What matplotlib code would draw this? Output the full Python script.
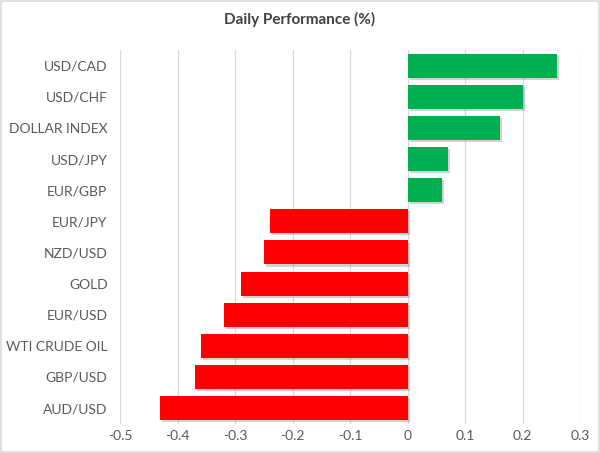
import matplotlib
matplotlib.use("Agg")
import matplotlib.pyplot as plt
import matplotlib.patheffects as pe

# dados
categorias = ["USD/CAD", "USD/CHF", "DOLLAR INDEX", "USD/JPY", "EUR/GBP",
              "EUR/JPY", "NZD/USD", "GOLD", "EUR/USD", "WTI CRUDE OIL",
              "GBP/USD", "AUD/USD"]
valores = [0.26, 0.20, 0.16, 0.07, 0.06,
           -0.24, -0.25, -0.29, -0.32, -0.36, -0.37, -0.43]
ticks_x = [-0.5, -0.4, -0.3, -0.2, -0.1, 0, 0.1, 0.2, 0.3]
rotulos_x = ["-0.5", "-0.4", "-0.3", "-0.2", "-0.1", "0", "0.1", "0.2", "0.3"]

verde = "#00B050"
vermelho = "#FF0000"
cinza_txt = "#595959"

plt.rcParams["font.family"] = ["Lato", "DejaVu Sans"]

fig = plt.figure(figsize=(6.0, 4.53), dpi=100)
fig.patch.set_facecolor("white")
ax = fig.add_axes([0.2, 0.065, 0.767, 0.824])

pos = list(range(len(categorias)))
cores = [verde if v >= 0 else vermelho for v in valores]
barras = ax.barh(pos, valores, height=0.77, color=cores, zorder=3)
for b in barras:
    b.set_path_effects([pe.SimplePatchShadow(offset=(1.5, -1.5), alpha=0.35, shadow_rgbFace="#7f7f7f"),
                        pe.Normal()])

ax.set_ylim(len(categorias) - 0.5, -0.5)
ax.set_xlim(-0.5, 0.3)
ax.set_xticks(ticks_x)
ax.set_xticklabels(rotulos_x)
ax.set_yticks(pos)
ax.set_yticklabels(categorias)

ax.grid(axis="x", color="#D9D9D9", linewidth=0.9, zorder=0)
for s in ax.spines.values():
    s.set_visible(False)
ax.tick_params(axis="both", length=0, labelsize=10, labelcolor=cinza_txt)
ax.tick_params(axis="y", pad=9)
ax.tick_params(axis="x", pad=5)

fig.text(0.5, 0.957, "Daily Performance (%)", ha="center", va="center",
         fontsize=11, fontweight="bold", color="#404040")

# borda
fig.add_artist(plt.Rectangle((0.002, 0.002), 0.996, 0.996, transform=fig.transFigure,
                             fill=False, edgecolor="#D9D9D9", linewidth=1.2))

fig.savefig("out.png", dpi=100)
